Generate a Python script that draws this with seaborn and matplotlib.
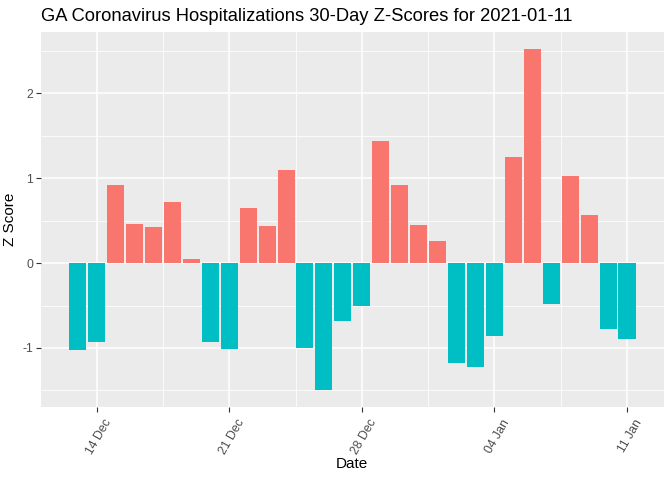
import matplotlib
matplotlib.use("Agg")
import matplotlib.pyplot as plt
import matplotlib.transforms as mtransforms
import seaborn as sns
import pandas as pd
import numpy as np

dates = pd.date_range("2020-12-13", "2021-01-11", freq="D")
zscores = [-1.02, -0.93, 0.92, 0.46, 0.42, 0.72, 0.05, -0.93, -1.01, 0.65,
           0.44, 1.10, -1.00, -1.49, -0.68, -0.50, 1.44, 0.92, 0.45, 0.26,
           -1.18, -1.23, -0.86, 1.25, 2.52, -0.48, 1.03, 0.57, -0.78, -0.89]
tick_dates = ["2020-12-14", "2020-12-21", "2020-12-28", "2021-01-04", "2021-01-11"]
tick_labels = ["14 Dec", "21 Dec", "28 Dec", "04 Jan", "11 Jan"]
title = "GA Coronavirus Hospitalizations 30-Day Z-Scores for 2021-01-11"

df = pd.DataFrame({"Date": dates, "Z": zscores})
df["pos"] = np.where(df["Z"] >= 0, "pos", "neg")
df["idx"] = np.arange(len(df))

sns.set_theme(style="darkgrid")
plt.rcParams["font.family"] = ["Liberation Sans", "DejaVu Sans"]
plt.rcParams["axes.unicode_minus"] = False

fig = plt.figure(figsize=(6.72, 4.8), dpi=100)
ax = fig.add_axes([0.0606, 0.153, 0.988 - 0.0606, 0.933 - 0.153])
ax.set_facecolor("#EBEBEB")

sns.barplot(data=df, x="idx", y="Z", hue="pos",
            palette={"pos": "#F8766D", "neg": "#00BFC4"},
            dodge=False, width=0.9, legend=False, ax=ax, saturation=1,
            linewidth=0, zorder=3)

date_index = {d.strftime("%Y-%m-%d"): i for i, d in enumerate(dates)}
tick_pos = [date_index[d] for d in tick_dates]
ax.set_xlim(-1.95, len(dates) - 1 + 1.95)
ymin, ymax = min(zscores), max(zscores)
pad = (ymax - ymin) * 0.05
ax.set_ylim(ymin - pad, ymax + pad)

ax.grid(which="major", color="white", linewidth=1.1, zorder=0)
ax.grid(which="minor", color="white", linewidth=0.55, zorder=0)
ax.set_axisbelow(True)
ax.tick_params(which="major", length=3.5, width=0.8, color="#333333", pad=2,
               bottom=True, left=True)
ax.tick_params(which="minor", length=0)
for s in ax.spines.values():
    s.set_visible(False)

ax.set_xticks(tick_pos)
ax.set_xticklabels(tick_labels, rotation=60, ha="right", va="top",
                   rotation_mode="anchor", fontsize=8.8, color="#4D4D4D")
ax.set_xticks([(a + b) / 2 for a, b in zip(tick_pos[:-1], tick_pos[1:])], minor=True)
ax.set_yticks([-1, 0, 1, 2])
ax.set_yticklabels(["-1", "0", "1", "2"], fontsize=8.8, color="#4D4D4D")
ax.set_yticks([-1.5, -0.5, 0.5, 1.5, 2.5], minor=True)

offset = mtransforms.ScaledTranslation(7 / 100, -3 / 100, fig.dpi_scale_trans)
for lab in ax.xaxis.get_majorticklabels():
    lab.set_transform(lab.get_transform() + offset)

ax.set_xlabel("Date", fontsize=11, color="black", labelpad=0)
ax.set_ylabel("Z Score", fontsize=11, color="black", labelpad=4)
ax.set_title(title, loc="left", fontsize=13.2, color="black", pad=8)

fig.savefig("out.png", dpi=100)
